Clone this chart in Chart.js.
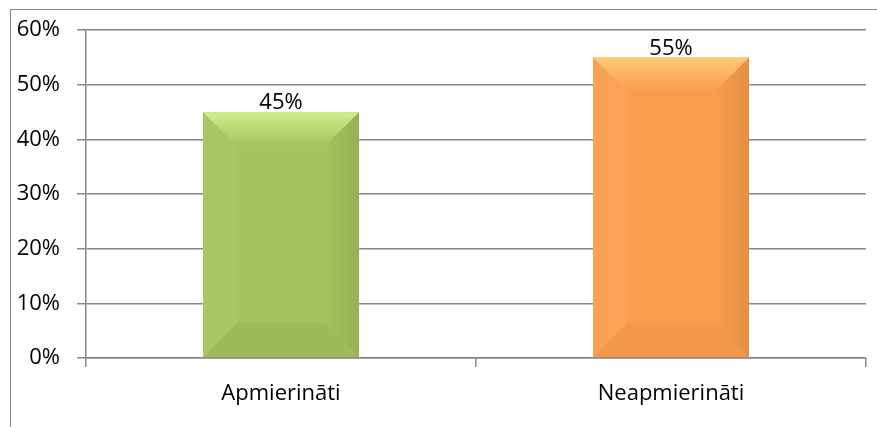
<!DOCTYPE html>
<html>
<head>
<meta charset="utf-8">
<script src="https://cdn.jsdelivr.net/npm/chart.js@4.4.1/dist/chart.umd.min.js"></script>
<style>
    html, body { margin: 0; padding: 0; background: #fff; overflow: hidden; }
    .frame {
        position: absolute; left: 10px; top: 9px; width: 2000px; height: 2000px;
        border-left: 1.5px solid #8a8a8a; border-top: 1.5px solid #8a8a8a;
    }
    .chart-container { position: absolute; left: 0; top: 0; width: 877px; height: 427px; }
</style>
</head>
<body>
<div class="frame"></div>
<div class="chart-container"><canvas id="barChart"></canvas></div>
<script>
const categories = ['Apmierināti', 'Neapmierināti'];
const shares = [45, 55];
const yTicks = [0, 10, 20, 30, 40, 50, 60];

const fillColors = ['#a2c35f', '#f99d4c'];
const lightColors = ['#d2ee8c', '#ffc978'];

const fontFamily = "'Open Sans', sans-serif";

// bevel look of the bars, drawn on the bar elements the library placed
const bevelPlugin = {
    id: 'bevel',
    afterDatasetsDraw(chart) {
        const ctx = chart.ctx;
        chart.getDatasetMeta(0).data.forEach(function (bar, i) {
            const left = bar.x - bar.width / 2;
            const right = bar.x + bar.width / 2;
            const top = bar.y;
            const bottom = bar.base;
            const b = bar.width * 0.22;
            ctx.save();
            // top
            let g = ctx.createLinearGradient(0, top, 0, top + b);
            g.addColorStop(0, lightColors[i]);
            g.addColorStop(1, fillColors[i]);
            ctx.fillStyle = g;
            ctx.beginPath();
            ctx.moveTo(left, top); ctx.lineTo(right, top);
            ctx.lineTo(right - b, top + b); ctx.lineTo(left + b, top + b);
            ctx.closePath(); ctx.fill();
            // left
            ctx.fillStyle = 'rgba(255,255,255,0.05)';
            ctx.beginPath();
            ctx.moveTo(left, top); ctx.lineTo(left + b, top + b);
            ctx.lineTo(left + b, bottom - b); ctx.lineTo(left, bottom);
            ctx.closePath(); ctx.fill();
            // right
            g = ctx.createLinearGradient(right - b, 0, right, 0);
            g.addColorStop(0, 'rgba(0,0,0,0)');
            g.addColorStop(1, 'rgba(0,0,0,0.09)');
            ctx.fillStyle = g;
            ctx.beginPath();
            ctx.moveTo(right, top); ctx.lineTo(right - b, top + b);
            ctx.lineTo(right - b, bottom - b); ctx.lineTo(right, bottom);
            ctx.closePath(); ctx.fill();
            // bottom
            ctx.fillStyle = 'rgba(0,0,0,0.03)';
            ctx.beginPath();
            ctx.moveTo(left, bottom); ctx.lineTo(left + b, bottom - b);
            ctx.lineTo(right - b, bottom - b); ctx.lineTo(right, bottom);
            ctx.closePath(); ctx.fill();
            // value label
            ctx.fillStyle = '#000';
            ctx.font = '22px ' + fontFamily;
            ctx.textAlign = 'center';
            ctx.textBaseline = 'alphabetic';
            ctx.fillText(shares[i] + '%', bar.x, top - 3);
            ctx.restore();
        });
    }
};

var ctx = document.getElementById('barChart').getContext('2d');
var myChart = new Chart(ctx, {
    type: 'bar',
    data: {
        labels: categories,
        datasets: [{
            label: 'Data',
            data: shares,
            backgroundColor: fillColors,
            borderColor: fillColors,
            borderWidth: 0,
            barPercentage: 0.4,
            categoryPercentage: 1
        }]
    },
    options: {
        responsive: true,
        maintainAspectRatio: false,
        animation: false,
        layout: { padding: { left: 14, right: 11, top: 29, bottom: 0 } },
        plugins: { legend: { display: false }, tooltip: { enabled: false } },
        scales: {
            x: {
                offset: true,
                afterFit(scale) { scale.height = 69; },
                border: { color: '#868686', width: 1.5 },
                grid: { offset: true, drawOnChartArea: false, drawTicks: true, tickLength: 9, color: '#868686', lineWidth: 1.5 },
                ticks: { color: '#000', padding: 14, font: { family: fontFamily, size: 22 } }
            },
            y: {
                min: 0,
                max: 60,
                afterFit(scale) { scale.width = 72; },
                afterBuildTicks(scale) { scale.ticks = yTicks.map(v => ({ value: v })); },
                border: { color: '#868686', width: 1.5 },
                grid: { color: '#868686', lineWidth: 1.5, tickLength: 9 },
                ticks: {
                    color: '#000', padding: 17,
                    font: { family: fontFamily, size: 22 },
                    callback: v => v + '%'
                }
            }
        }
    },
    plugins: [bevelPlugin]
});
</script>
</body>
</html>
